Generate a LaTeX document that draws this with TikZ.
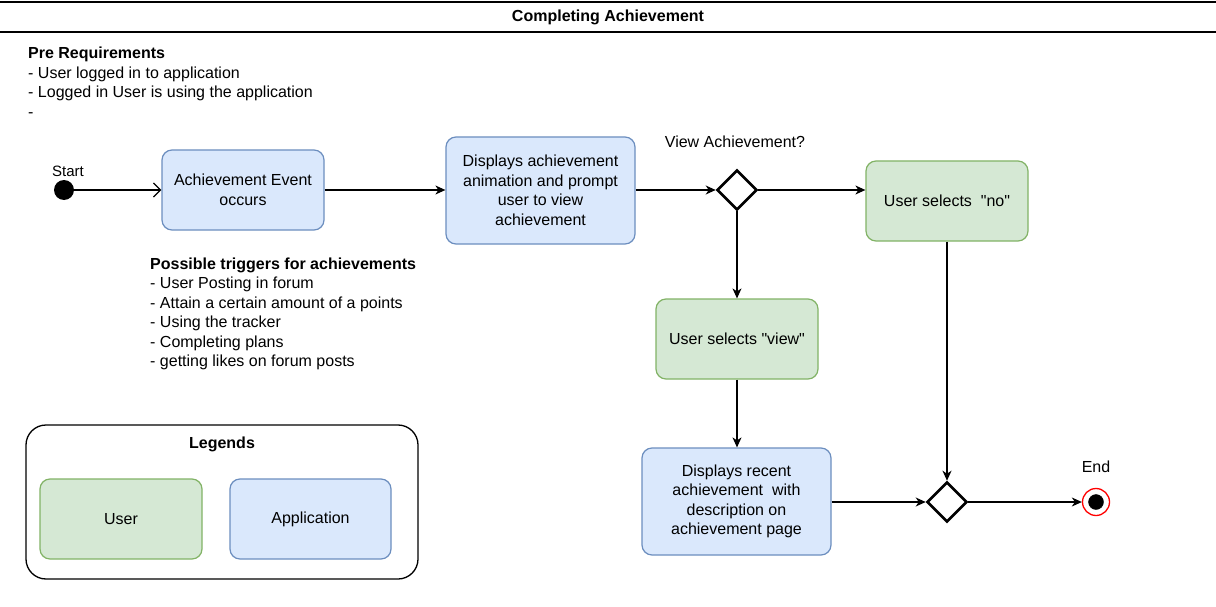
\documentclass[tikz,border=0pt]{standalone}
\usepackage{fontspec}
\setmainfont{Liberation Sans}[Ligatures=TeXOff]
\usetikzlibrary{arrows.meta,shapes.geometric}
\definecolor{grn}{HTML}{82B366}
\definecolor{grnfill}{HTML}{D5E8D4}
\definecolor{blu}{HTML}{6C8EBF}
\definecolor{blufill}{HTML}{DAE8FC}
\tikzset{
  txt/.style={font=\fontsize{16}{19.5}\selectfont},
  actbox/.style={draw, rounded corners=10pt, line width=1.2pt, minimum width=162pt, minimum height=80pt, align=center, txt, inner sep=2pt},
  userbox/.style={actbox, draw=grn, fill=grnfill},
  appbox/.style={actbox, draw=blu, fill=blufill},
  decision/.style={draw, diamond, line width=2.6pt, minimum width=40pt, minimum height=40pt, inner sep=0pt, aspect=1},
  flow/.style={line width=1.3pt, -{Stealth[length=10pt,width=9pt,inset=3pt]}},
}
\begin{document}
\begin{tikzpicture}[x=1pt,y=-1pt]
\useasboundingbox (0,0) rectangle (1216,607);
\fill[white] (0,0) rectangle (1216,607);
% title bar
\draw[line width=1.3pt] (0,2) coordinate (tl) -- (1216,2) coordinate (tr);
\draw[line width=1.3pt] (0,32) coordinate (bl) -- (1216,32) coordinate (br);
\node[font=\fontsize{16}{19.5}\selectfont\bfseries] (title) at (608,17.5) {Completing Achievement};
% pre requirements
\node[txt, anchor=north west, align=left, inner sep=0pt] (pre) at (28,47) {\textbf{Pre Requirements}\\- User logged in to application\\- Logged in User is using the application\\-};
% triggers
\node[txt, anchor=north west, align=left, inner sep=0pt] (trig) at (150,257.5) {\textbf{Possible triggers for achievements}\\- User Posting in forum\\- Attain a certain amount of a points\\- Using the tracker\\- Completing plans\\- getting likes on forum posts};
% start
\node[circle, fill=black, minimum size=20pt, inner sep=0pt] (start) at (64,190) {};
\node[font=\fontsize{15}{18}\selectfont] (startlbl) at (68,171) {Start};
% boxes
\node[appbox] (event) at (243,190) {Achievement Event\\occurs};
\node[appbox, minimum width=189pt, minimum height=107pt] (disp) at (540.5,190.5) {Displays achievement\\animation and prompt\\user to view\\achievement};
\node[decision] (d1) at (737,190) {};
\node[txt] (d1lbl) at (735,142) {View Achievement?};
\node[userbox] (no) at (947,201) {User selects~ "no"};
\node[userbox] (view) at (737,339) {User selects "view"};
\node[appbox, minimum width=189pt, minimum height=107pt] (recent) at (736.5,501.5) {Displays recent\\achievement~ with\\description on\\achievement page};
\node[decision] (d2) at (947,502) {};
% end
\node[circle, draw=red, fill=white, line width=1.3pt, minimum size=27pt, inner sep=0pt] (end) at (1096,502) {};
\node[circle, fill=black, draw=black, minimum size=15pt, inner sep=0pt] (endin) at (1096,502) {};
\node[txt] (endlbl) at (1096,467) {End};
% connectors
\draw[line width=1.3pt, -{Straight Barb[length=7pt,width=14pt,line width=1.3pt]}] (start) -- (event);
\draw[flow] (event) -- (disp.west |- event);
\draw[flow] (disp.east |- d1) -- (d1.west);
\draw[flow] (d1.east) -- (no.west |- d1);
\draw[flow] (d1.south) -- (view.north);
\draw[flow] (view.south) -- (recent.north -| view);
\draw[flow] (recent.east |- d2) -- (d2.west);
\draw[flow] (no.south) -- (d2.north);
\draw[flow] (d2.east) -- (end.west);
% legend
\node[draw, rounded corners=20pt, line width=1.3pt, minimum width=392pt, minimum height=154pt] (legend) at (222,502) {};
\node[font=\fontsize{16}{19.5}\selectfont\bfseries] (legtitle) at (222,444.5) {Legends};
\node[userbox] (leguser) at (121,519) {User};
\node[appbox, minimum width=161pt] (legapp) at (310.5,519) {Application};
\end{tikzpicture}
\end{document}
